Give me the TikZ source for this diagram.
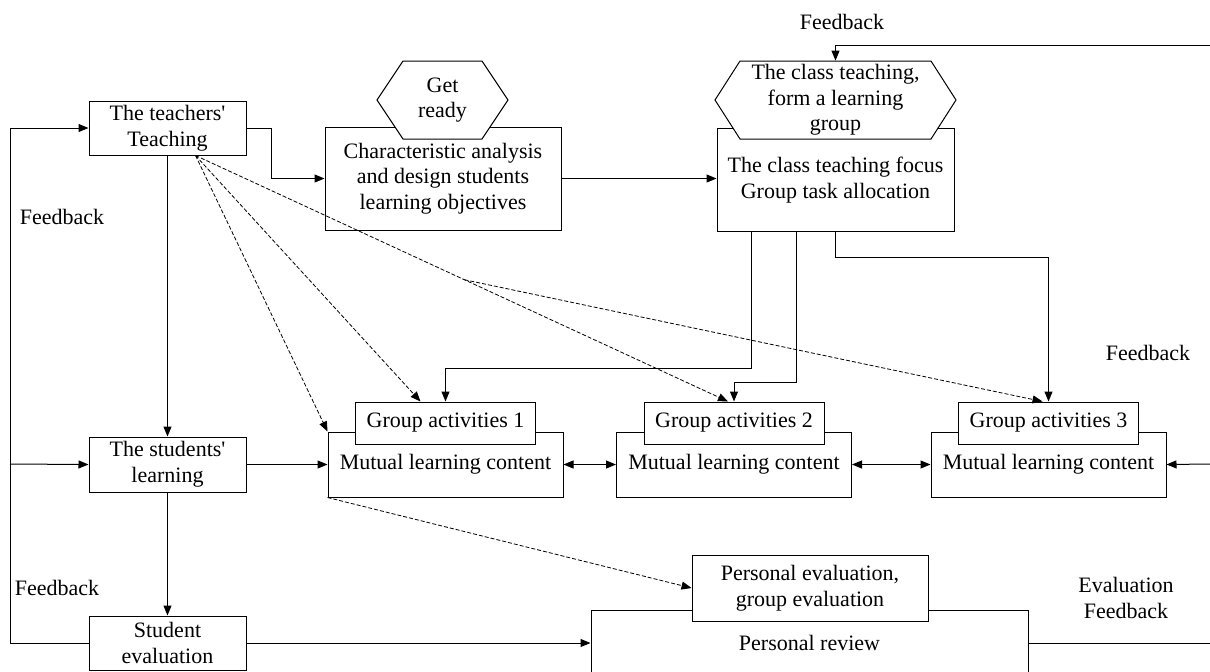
\documentclass[tikz,border=0pt]{standalone}
\usepackage{fontspec}
\setmainfont{Liberation Serif}[Ligatures=TeXOff]
\usetikzlibrary{positioning}
\usetikzlibrary{calc}
\usetikzlibrary{arrows.meta}

% hexagon: centre x, centre y, half width, corner cut
\newcommand\hexframe[4]{%
    \filldraw[fill=white, line width=0.5pt] (#1-#3,#2) -- (#1-#3+#4,#2-39) -- (#1+#3-#4,#2-39)
        -- (#1+#3,#2) -- (#1+#3-#4,#2+39) -- (#1-#3+#4,#2+39) -- cycle;}

\begin{document}
\begin{tikzpicture}[x=0.5pt,y=-0.5pt,
    >={Triangle[length=5pt,width=4pt]},
    every node/.style={font=\fontsize{11}{12.8}\selectfont, align=center, inner sep=0pt},
    box/.style={draw, fill=white, line width=0.5pt},
    link/.style={->, line width=0.5pt},
    hint/.style={->, line width=0.4pt, dash pattern=on 2pt off 1pt}]

    \useasboundingbox (0,0) rectangle (1210,671);

    \node[box, minimum width=78.5pt, minimum height=27pt] (teach) at (167.5,128) {The teachers'\\Teaching};
    \node[box, minimum width=78.5pt, minimum height=27.5pt] (learn) at (167.5,464.5) {The students'\\learning};
    \node[box, minimum width=78.5pt, minimum height=27pt] (steval) at (167.5,643) {Student\\evaluation};

    \node[box, minimum width=118pt, minimum height=51.5pt] (char) at (443,178.5) {Characteristic analysis\\and design students\\learning objectives};
    \hexframe{442.5}{100}{65.5}{26}
    \node[minimum width=65.5pt, minimum height=39pt] (ready) at (442.5,100) {Get\\ready};

    \node[box, minimum width=118.5pt, minimum height=51.5pt] (focus) at (835.5,180) {The class teaching focus\\Group task allocation};
    \hexframe{835.5}{100}{120.5}{25}
    \node[minimum width=120.5pt, minimum height=39pt] (classhex) at (835.5,100) {The class teaching,\\form a learning\\group};

\foreach \n/\x in {1/445.5, 2/734, 3/1048.5}
{
    \node[box, minimum width=117.5pt, minimum height=32.5pt] (mut\n) at (\x,464.5) {Mutual learning content};
    \node[box, minimum width=90pt, minimum height=21pt] (ga\n) at (\x,423) {Group activities \n};
}

    \node[box, minimum width=218.5pt, minimum height=33pt] (review) at (809.5,643) {Personal review};
    \node[box, minimum width=118pt, minimum height=33pt] (peval) at (810,588) {Personal evaluation,\\group evaluation};

    \node (fb1) at (62,217) {Feedback};
    \node (fb2) at (57,588) {Feedback};
    \node (fb3) at (842,22) {Feedback};
    \node (fb4) at (1148,353) {Feedback};
    \node (evfb) at (1126,598) {Evaluation\\Feedback};

    \coordinate (lmid) at (10,464);
    \coordinate (ltop) at (10,643);
    \coordinate (rtop) at (1210,45);
    \coordinate (rmid) at (1210,464);
    \coordinate (rbot) at (1210,643);

    \draw[link] (steval.west) -- (ltop) |- (teach.west);
    \draw[link] (lmid) -- (learn.west);
    \draw[link] (teach.south) -- (learn.north);
    \draw[link] (learn.south) -- (steval.north);
    \draw[link] (learn.east) -- (mut1.west);
    \draw[link] (steval.east) -- (review.west);
    \draw[-, line width=0.5pt] (review.east) -- (rbot);

    \draw[link] (teach.east) -- ++(25,0) |- (char.west);
    \draw[link] (char.east) -- (char.east -| focus.west);
    \draw[link] (rtop) -| (classhex.north);

    \draw[link] ($(focus.south west)+(35,0)$) -- ++(0,136) -| (ga1.north);
    \draw[link] ($(focus.south west)+(80,0)$) -- ++(0,150) -| (ga2.north);
    \draw[link] (focus.south) -- ++(0,25) -| (ga3.north);

    \draw[link, <->] (mut1.east) -- (mut2.west);
    \draw[link, <->] (mut2.east) -- (mut3.west);
    \draw[link] (rmid) -- (mut3.east);

    \coordinate (dsrc) at ($(teach.south)+(28,0)$);
    \coordinate (ga1in) at ($(ga1.north)+(-25,0)$);
    \coordinate (ga2in) at ($(ga2.north)+(-6,0)$);
    \coordinate (ga3in) at ($(ga3.north)+(-6,0)$);
    \coordinate (split) at ($(dsrc)!0.505!(ga2in)$);

    \draw[hint] (dsrc) -- (mut1.north west);
    \draw[hint] (dsrc) -- (ga1in);
    \draw[hint] (dsrc) -- (ga2in);
    \draw[hint] (split) -- (ga3in);
    \draw[hint] (mut1.south west) -- (peval.west);

\end{tikzpicture}
\end{document}
